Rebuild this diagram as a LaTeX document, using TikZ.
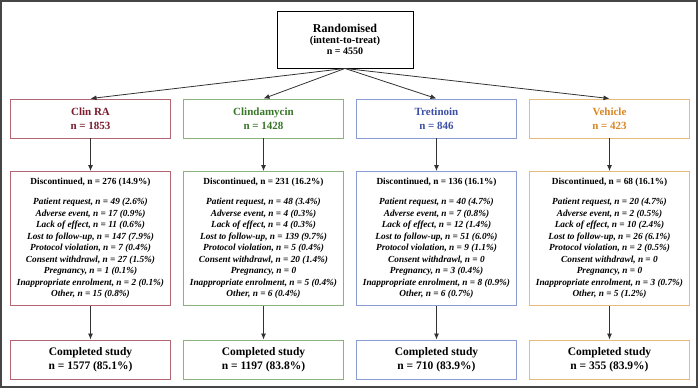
\documentclass[tikz,border=0pt]{standalone}
\usepackage{fontspec}
\setmainfont{Liberation Serif}
\usepackage{xcolor}
\usetikzlibrary{arrows.meta}
\usetikzlibrary{math}
\definecolor{qred}{RGB}{122,28,46}
\definecolor{qgreen}{RGB}{56,118,40}
\definecolor{qblue}{RGB}{60,80,165}
\definecolor{qorange}{RGB}{216,134,36}
\definecolor{lred}{RGB}{178,102,114}
\definecolor{lgreen}{RGB}{140,178,126}
\definecolor{lblue}{RGB}{138,156,212}
\definecolor{lorange}{RGB}{230,186,122}
\definecolor{qframe}{RGB}{70,70,70}
\definecolor{qarrow}{RGB}{50,50,50}

\begin{document}
\begin{tikzpicture}[x=1pt,y=-1pt,
  box/.style={draw, line width=0.9pt, align=center, inner sep=0pt, minimum width=160.5pt},
  grp/.style={box, minimum height=39pt, font=\fontsize{11}{13.5}\selectfont\bfseries},
  disc/.style={box, minimum height=134pt, font=\fontsize{9.3}{11.5}\selectfont\bfseries},
  comp/.style={box, minimum height=39.5pt, font=\fontsize{11.5}{14.5}\selectfont\bfseries},
  arr/.style={-{Latex[length=6pt,width=5pt]}, color=qarrow, line width=0.8pt}]

\tikzmath{
\dx = 173; %spacing of the four arms
\xa = 90.5;
\xb = \xa+\dx;
\xc = \xa+2*\dx;
\xd = \xa+3*\dx;
\yg = 118.5;
\yd = 238.5;
\yc = 359.75;
}

%frame:
\useasboundingbox (0,0) rectangle (700,390);
\draw[qframe, line width=1.4pt] (1,1) rectangle (697,387);

%randomised:
\node[draw, line width=0.9pt, align=center, inner sep=0pt, minimum width=136pt, minimum height=57pt]
  (rand) at (345,39.5) {{\fontsize{12}{14}\selectfont\bfseries Randomised}\\[-1pt]
  {\fontsize{10.5}{13}\selectfont\bfseries (intent-to-treat)}\\[-1pt]
  {\fontsize{10}{12}\selectfont\bfseries n = 4550}};

%arms:
\node[grp, lred, text=qred] (clinra) at (\xa,\yg) {Clin RA\\n = 1853};
\node[grp, lgreen, text=qgreen] (clinda) at (\xb,\yg) {Clindamycin\\n = 1428};
\node[grp, lblue, text=qblue] (tret) at (\xc,\yg) {Tretinoin\\n = 846};
\node[grp, lorange, text=qorange] (veh) at (\xd,\yg) {Vehicle\\n = 423};

%discontinued:
\node[disc, lred, text=black] (discra) at (\xa,\yd) {Discontinued, n = 276 (14.9\%)\\[8.5pt]
  \itshape Patient request, n = 49 (2.6\%)\\ \itshape Adverse event, n = 17 (0.9\%)\\
  \itshape Lack of effect, n = 11 (0.6\%)\\ \itshape Lost to follow-up, n = 147 (7.9\%)\\
  \itshape Protocol violation, n = 7 (0.4\%)\\ \itshape Consent withdrawl, n = 27 (1.5\%)\\
  \itshape Pregnancy, n = 1 (0.1\%)\\ \itshape Inappropriate enrolment, n = 2 (0.1\%)\\
  \itshape Other, n = 15 (0.8\%)};
\node[disc, lgreen, text=black] (discda) at (\xb,\yd) {Discontinued, n = 231 (16.2\%)\\[8.5pt]
  \itshape Patient request, n = 48 (3.4\%)\\ \itshape Adverse event, n = 4 (0.3\%)\\
  \itshape Lack of effect, n = 4 (0.3\%)\\ \itshape Lost to follow-up, n = 139 (9.7\%)\\
  \itshape Protocol violation, n = 5 (0.4\%)\\ \itshape Consent withdrawl, n = 20 (1.4\%)\\
  \itshape Pregnancy, n = 0\\ \itshape Inappropriate enrolment, n = 5 (0.4\%)\\
  \itshape Other, n = 6 (0.4\%)};
\node[disc, lblue, text=black] (disctr) at (\xc,\yd) {Discontinued, n = 136 (16.1\%)\\[8.5pt]
  \itshape Patient request, n = 40 (4.7\%)\\ \itshape Adverse event, n = 7 (0.8\%)\\
  \itshape Lack of effect, n = 12 (1.4\%)\\ \itshape Lost to follow-up, n = 51 (6.0\%)\\
  \itshape Protocol violation, n = 9 (1.1\%)\\ \itshape Consent withdrawl, n = 0\\
  \itshape Pregnancy, n = 3 (0.4\%)\\ \itshape Inappropriate enrolment, n = 8 (0.9\%)\\
  \itshape Other, n = 6 (0.7\%)};
\node[disc, lorange, text=black] (discve) at (\xd,\yd) {Discontinued, n = 68 (16.1\%)\\[8.5pt]
  \itshape Patient request, n = 20 (4.7\%)\\ \itshape Adverse event, n = 2 (0.5\%)\\
  \itshape Lack of effect, n = 10 (2.4\%)\\ \itshape Lost to follow-up, n = 26 (6.1\%)\\
  \itshape Protocol violation, n = 2 (0.5\%)\\ \itshape Consent withdrawl, n = 0\\
  \itshape Pregnancy, n = 0\\ \itshape Inappropriate enrolment, n = 3 (0.7\%)\\
  \itshape Other, n = 5 (1.2\%)};

%completed:
\node[comp, lred, text=black] (compra) at (\xa,\yc) {Completed study\\n = 1577 (85.1\%)};
\node[comp, lgreen, text=black] (compda) at (\xb,\yc) {Completed study\\n = 1197 (83.8\%)};
\node[comp, lblue, text=black] (comptr) at (\xc,\yc) {Completed study\\n = 710 (83.9\%)};
\node[comp, lorange, text=black] (compve) at (\xd,\yc) {Completed study\\n = 355 (83.9\%)};

%connectors:
\draw[arr] (rand.south) -- (clinra.north);
\draw[arr] (rand.south) -- (clinda.north);
\draw[arr] (rand.south) -- (tret.north);
\draw[arr] (rand.south) -- (veh.north);

\draw[arr] (clinra) -- (discra);
\draw[arr] (clinda) -- (discda);
\draw[arr] (tret) -- (disctr);
\draw[arr] (veh) -- (discve);

\draw[arr] (discra) -- (compra);
\draw[arr] (discda) -- (compda);
\draw[arr] (disctr) -- (comptr);
\draw[arr] (discve) -- (compve);

\end{tikzpicture}
\end{document}
